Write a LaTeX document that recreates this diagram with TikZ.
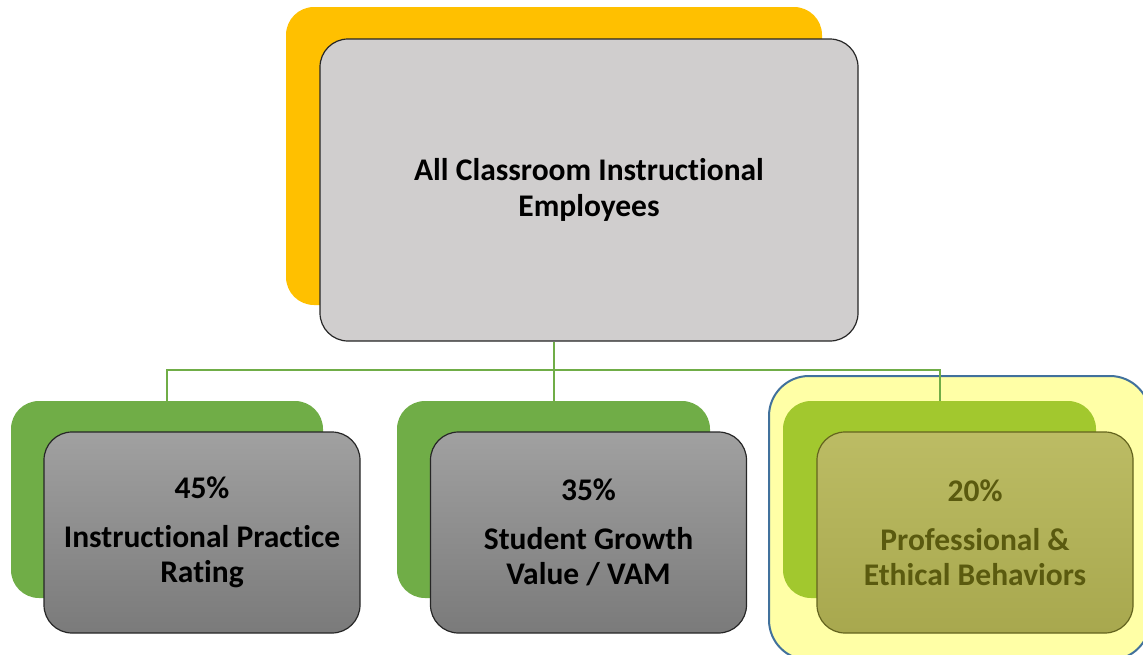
\documentclass[tikz,border=0pt]{standalone}
\usepackage{fontspec}
\setmainfont{Carlito}[Ligatures=NoCommon]
\definecolor{gold}{RGB}{255,192,0}
\definecolor{topgray}{RGB}{208,206,206}
\definecolor{leafgreen}{RGB}{112,173,71}
\definecolor{limegreen}{RGB}{162,200,46}
\definecolor{hilite}{RGB}{255,255,166}
\definecolor{hiborder}{RGB}{65,113,156}
\definecolor{olivetop}{RGB}{188,188,100}
\definecolor{olivebot}{RGB}{168,168,78}
\definecolor{oliveedge}{RGB}{100,100,30}
\definecolor{olivetext}{RGB}{90,90,15}
\tikzset{
  back/.style={rounded corners=28pt, inner sep=0pt},
  front/.style={rounded corners=28pt, draw=black!85, line width=1.2pt, inner sep=0pt, align=center},
  leafbox/.style={front, top color=black!37, bottom color=black!52, minimum width=316pt, minimum height=201pt,
     font=\fontsize{31.5}{35}\selectfont\bfseries},
  conn/.style={draw=leafgreen, line width=2pt},
}
\begin{document}
\begin{tikzpicture}[x=1pt,y=-1pt]
\useasboundingbox (0,0) rectangle (1143,654);
% top
\node[back, fill=gold, minimum width=536pt, minimum height=298pt] (tb) at (554,156) {};
\node[front, fill=topgray, minimum width=538pt, minimum height=302pt,
  font=\fontsize{31.5}{36}\selectfont\bfseries] (tf) at (589,190) {All Classroom Instructional\\Employees};
% highlight
\node[rounded corners=40pt, fill=hilite, draw=hiborder, line width=2pt, minimum width=381pt, minimum height=284pt, inner sep=0pt] (hl) at (959.5,518) {};
% left
\node[back, fill=leafgreen, minimum width=312pt, minimum height=197pt] (lb) at (167,499.5) {};
\node[leafbox] (lf) at (202,532.5) {45\%\\[14pt]Instructional Practice\\Rating};
% middle
\node[back, fill=leafgreen, minimum width=313pt, minimum height=197pt] (mb) at (553.5,499.5) {};
\node[leafbox] (mf) at (588.5,532.5) {35\%\\[14pt]Student Growth\\Value / VAM};
% right
\node[back, fill=limegreen, minimum width=313pt, minimum height=197pt] (rb) at (939.5,499.5) {};
\node[leafbox, top color=olivetop, bottom color=olivebot, draw=oliveedge, text=olivetext] (rf) at (975,532.5) {20\%\\[14pt]Professional \&\\Ethical Behaviors};
% connectors
\coordinate (hub) at (553.5,370);
\draw[conn] (tf.south -| hub) -- (hub);
\draw[conn] (lb.north) |- (hub) -| (rb.north);
\draw[conn] (hub) -- (mb.north);
\end{tikzpicture}
\end{document}
